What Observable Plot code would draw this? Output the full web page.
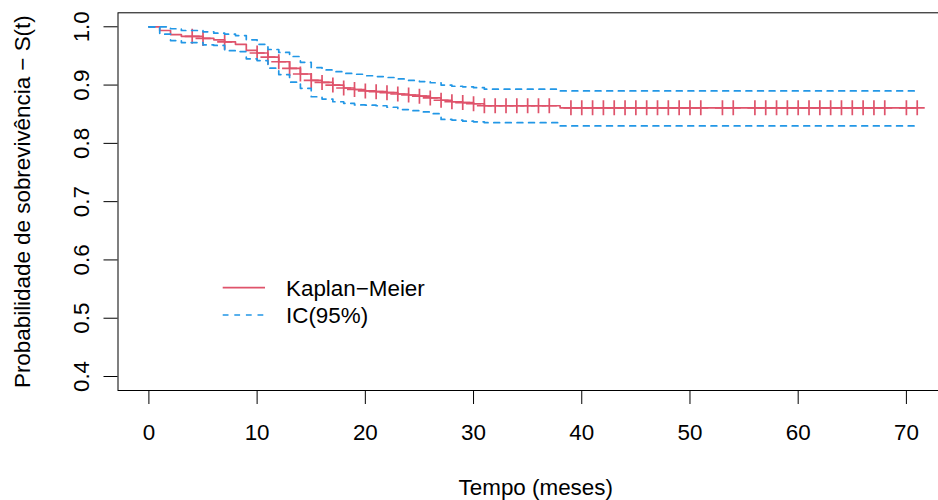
<!DOCTYPE html>
<html><head><meta charset="utf-8">
<script src="https://cdn.jsdelivr.net/npm/d3@7"></script>
<script src="https://cdn.jsdelivr.net/npm/@observablehq/plot@0.6"></script>
<style>
html,body{margin:0;padding:0;background:#fff;}
svg{font-family:"Liberation Sans", Arial, Helvetica, sans-serif;}
</style>
</head><body><div id="chart"></div>
<script>
// ---- data ----
const times = [0,1,2,3,5,6,7,8,9,10,11,12,13,14,15,16,17,18,19,20,21,22,23,24,25,26,27,28,29,30,31,38];
const surv  = [1.0,0.9936,0.9867,0.9836,0.980,0.9776,0.974,0.970,0.9595,0.955,
               0.948,0.940,0.9286,0.919,0.908,0.9045,0.900,0.895,0.8924,0.890,
               0.8886,0.887,0.8847,0.883,0.881,0.878,0.874,0.8714,0.870,0.868,0.8645,
               0.861];
const upper = [1.0,1.0,0.9966,0.9936,0.9914,0.989,0.9874,0.985,0.9776,0.970,
               0.961,0.956,0.949,0.939,0.930,0.926,0.923,0.920,0.9186,0.916,
               0.9145,0.913,0.9105,0.908,0.906,0.904,0.900,0.898,0.897,0.8955,0.893,
               0.890];
const lower = [1.0,0.9874,0.9764,0.973,0.969,0.968,0.959,0.9575,0.945,0.942,
               0.929,0.918,0.905,0.8945,0.880,0.876,0.8714,0.8687,0.866,0.8655,
               0.8645,0.862,0.858,0.856,0.854,0.851,0.841,0.840,0.838,0.837,0.8355,
               0.830];
const lastTime = 71;
const censorTimes = [4,5,7,10,11,12,13,14,15,16,17,18,19,20,21,22,23,24,25,26,27,28,29,30,
                     31,32,33,34,35,36,37,39,40,41,42,43,44,45,46,47,48,49,50,51,53,54,
                     56,57,58,59,60,61,62,63,64,65,66,67,68,70,71];
const xTicks = [0,10,20,30,40,50,60,70];
const yTicks = [0.4,0.5,0.6,0.7,0.8,0.9,1.0];
const xLabel = "Tempo (meses)";
const yLabel = "Probabilidade de sobrevivência − S(t)";
const legendLabels = ["Kaplan−Meier", "IC(95%)"];

// ---- build tables ----
const last = times.length - 1;
const stepRows = (vals) => times.map((t, i) => ({t, v: vals[i]})).concat([{t: lastTime, v: vals[last]}]);
const kmRows = stepRows(surv);
const upRows = stepRows(upper);
const loRows = stepRows(lower);
const survAt = (t) => { let v = surv[0]; times.forEach((tt, i) => { if (tt <= t) v = surv[i]; }); return v; };
const censorRows = censorTimes.map(t => ({t, v: survAt(t)}));

const RED = "#DF536B", BLUE = "#2297E6";
const FS = 22.4;
const FONT = '"Liberation Sans", Arial, Helvetica, sans-serif';
const plusSymbol = {draw(ctx, size) { const r = Math.sqrt(size / Math.PI); ctx.moveTo(-r, 0); ctx.lineTo(r, 0); ctx.moveTo(0, -r); ctx.lineTo(0, r); }};

const W = 938, H = 500, ML = 117.5, MT = 12.3, MB = 110, MR = -14;

const chart = Plot.plot({
  width: W, height: H,
  marginLeft: ML, marginTop: MT, marginBottom: MB, marginRight: MR,
  style: {overflow: "hidden", fontFamily: FONT, background: "white"},
  x: {domain: [-2.856, 74.26], axis: null},
  y: {domain: [0.376, 1.024], axis: null},
  marks: [
    Plot.frame({stroke: "black", strokeWidth: 1}),
    Plot.axisX({ticks: xTicks, tickSize: 14, fill: "none", label: null, stroke: "black"}),
    Plot.axisY({ticks: yTicks, tickSize: 14, fill: "none", label: null, stroke: "black"}),
    Plot.text(xTicks, {x: d => d, text: d => String(d), frameAnchor: "bottom", lineAnchor: "middle", textAnchor: "middle", dy: 42.8, fontSize: FS, fill: "black"}),
    Plot.text(yTicks, {y: d => d, text: d => d.toFixed(1), frameAnchor: "left", lineAnchor: "middle", textAnchor: "middle", dx: -36.5, rotate: -90, fontSize: FS, fill: "black"}),
    Plot.text([xLabel], {text: d => d, frameAnchor: "bottom", lineAnchor: "middle", textAnchor: "middle", dy: 97, dx: 0.5, fontSize: FS, fill: "black"}),
    Plot.text([yLabel], {text: d => d, frameAnchor: "left", lineAnchor: "middle", textAnchor: "middle", dx: 22.3 - ML, rotate: -90, fontSize: FS, fill: "black"}),
    Plot.line(kmRows, {x: "t", y: "v", curve: "step-after", stroke: RED, strokeWidth: 1.7}),
    Plot.dot(censorRows, {x: "t", y: "v", symbol: plusSymbol, r: 7.5, stroke: RED, fill: "none", strokeWidth: 1.7}),
    Plot.line(upRows, {x: "t", y: "v", curve: "step-after", stroke: BLUE, strokeWidth: 1.7, strokeDasharray: "5.8,5.8"}),
    Plot.line(loRows, {x: "t", y: "v", curve: "step-after", stroke: BLUE, strokeWidth: 1.7, strokeDasharray: "5.8,5.8"})
  ]
});

// ---- legend (decoration, no box as in the reference) ----
const svg = d3.select(chart);
const lg = svg.append("g").attr("font-size", FS).attr("font-family", FONT).attr("text-anchor", "start");
const items = [{label: legendLabels[0], color: RED, dash: null}, {label: legendLabels[1], color: BLUE, dash: "5.8,5.8"}];
items.forEach((it, i) => {
  const y = 287.7 + i * 27.3;
  lg.append("line").attr("x1", 222.7).attr("x2", 265).attr("y1", y).attr("y2", y)
    .attr("stroke", it.color).attr("stroke-width", 1.7).attr("stroke-dasharray", it.dash);
  lg.append("text").attr("x", 286).attr("y", y).attr("dy", "0.35em").attr("fill", "black")
    .attr("text-anchor", "start").text(it.label);
});

document.getElementById("chart").appendChild(chart);
</script>
</body></html>
